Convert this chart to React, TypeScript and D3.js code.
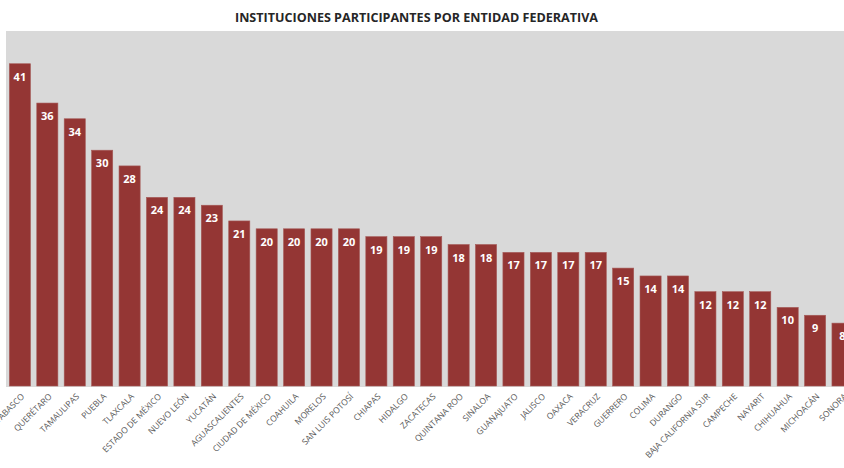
import React from "react";
import * as d3 from "d3";

const states = [
  "TABASCO", "QUERÉTARO", "TAMAULIPAS", "PUEBLA", "TLAXCALA", "ESTADO DE MÉXICO",
  "NUEVO LEÓN", "YUCATÁN", "AGUASCALIENTES", "CIUDAD DE MÉXICO", "COAHUILA",
  "MORELOS", "SAN LUIS POTOSÍ", "CHIAPAS", "HIDALGO", "ZACATECAS", "QUINTANA ROO",
  "SINALOA", "GUANAJUATO", "JALISCO", "OAXACA", "VERACRUZ", "GUERRERO", "COLIMA",
  "DURANGO", "BAJA CALIFORNIA SUR", "CAMPECHE", "NAYARIT", "CHIHUAHUA", "MICHOACÁN", "SONORA",
];
const institutions = [
  41, 36, 34, 30, 28, 24, 24, 23, 21, 20, 20, 20, 20, 19, 19, 19, 18, 18, 17, 17, 17, 17,
  15, 14, 14, 12, 12, 12, 10, 9, 8,
];
const title = "INSTITUCIONES PARTICIPANTES POR ENTIDAD FEDERATIVA";

export default function App() {
  const W = 844, H = 468;
  const plotLeft = 6, plotTop = 31, plotBottom = 387;
  const baseline = 386;
  const step = 27.42;
  const x = d3.scaleBand<string>()
    .domain(states)
    .range([6.2, 6.2 + step * states.length])
    .paddingInner(0.23)
    .paddingOuter(0.115);
  const y = d3.scaleLinear().domain([0, 45]).range([baseline, baseline - 45 * 7.86]);

  return (
    <svg width={W} height={H} style={{ position: "absolute", left: 0, top: 0, background: "#fff" }}>
      <rect x={0} y={0} width={W} height={H} fill="#fff" />
      <rect x={plotLeft} y={plotTop} width={W - plotLeft + 10} height={plotBottom - plotTop} fill="#d9d9d9" />
      <text x={416.5} y={22} textAnchor="middle" fontFamily="'Open Sans', sans-serif" fontWeight="bold"
        fontSize={12} fill="#262626" textLength={363} lengthAdjust="spacingAndGlyphs">{title}</text>
      {states.map((s, i) => {
        const v = institutions[i];
        const bx = x(s)!;
        const bw = x.bandwidth();
        const top = y(v);
        return (
          <g key={s}>
            <rect x={bx} y={top} width={bw} height={baseline - top} fill="#943634" stroke="#a55a58" strokeWidth={0.6} />
            <text x={bx + bw / 2} y={top + 17} textAnchor="middle" fill="#fff" fontFamily="'Open Sans', sans-serif"
              fontWeight="bold" fontSize={11}>{v}</text>
            <text transform={`translate(${bx + bw / 2 + 5},${397}) rotate(-45)`} textAnchor="end"
              fill="#595959" fontFamily="'Open Sans', sans-serif" fontSize={8.5}>{s}</text>
          </g>
        );
      })}
    </svg>
  );
}
